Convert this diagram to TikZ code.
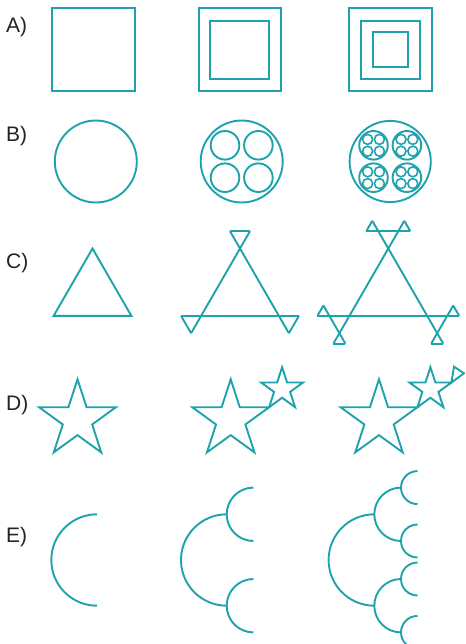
\documentclass[tikz,border=0pt]{standalone}
\usepackage{fontspec}
\setmainfont{Liberation Sans}
\usetikzlibrary{calc}
\definecolor{teal1}{RGB}{30,163,173}
\definecolor{lab}{RGB}{35,35,35}
\tikzset{
  fig/.style={draw=teal1, line width=1.9pt, line join=miter},
  lbl/.style={anchor=base west, inner sep=0pt, text=lab, font=\fontsize{21}{25}\selectfont}
}
\newcommand\starfig[3]{%
  \draw[fig,shift={(#1,#2)}] (-90:#3) -- (-54:0.382*#3) -- (-18:#3) -- (18:0.382*#3) -- (54:#3) -- (90:0.382*#3) -- (126:#3) -- (162:0.382*#3) -- (198:#3) -- (234:0.382*#3) -- cycle;}
\begin{document}
\begin{tikzpicture}[x=1pt,y=-1pt]
\useasboundingbox (0,0) rectangle (465,644);
\clip (0,0) rectangle (465,644);
\fill[white] (0,0) rectangle (465,644);

% labels
\node[lbl] (la) at (6,33) {A)};
\node[lbl] (lb) at (6,142) {B)};
\node[lbl] (lc) at (6,268) {C)};
\node[lbl] (ld) at (6,410) {D)};
\node[lbl] (le) at (6,542) {E)};

% ---- Row A: squares
\draw[fig] (52.3,8.3) rectangle (135,90.7);
\draw[fig] (198.7,8.3) rectangle (281,90.7);
\draw[fig] (210,20.7) rectangle (269.3,79.3);
\draw[fig] (349.3,8.3) rectangle (431.7,90.7);
\draw[fig] (361,20.7) rectangle (420,79.3);
\draw[fig] (372.7,32.3) rectangle (408.3,67.3);

% ---- Row B: circles
\draw[fig] (95.8,161.5) circle[radius=41];
\draw[fig] (241.7,161.5) circle[radius=41];
\foreach \dx in {-16.7,16.7}{\foreach \dy in {-16.2,16.2}{
  \draw[fig] (241.7+\dx,161.5+\dy) circle[radius=14.3];}}
\draw[fig] (390.2,161.5) circle[radius=40.6];
\foreach \dx in {-16.7,16.7}{\foreach \dy in {-16.2,16.2}{
  \draw[fig] (390.2+\dx,161.5+\dy) circle[radius=14.3];
  \foreach \ex in {-5.9,5.9}{\foreach \ey in {-5.9,5.9}{
    \draw[fig,line width=1.6pt] (390.2+\dx+\ex,161.5+\dy+\ey) circle[radius=5.0];}}}}

% ---- Row C: triangles
\draw[fig] (92.5,248.5) -- (131.4,315.9) -- (53.6,315.9) -- cycle;

\coordinate (A2) at (240,248.5);
\coordinate (L2) at (201.1,315.9);
\coordinate (R2) at (278.9,315.9);
\draw[fig] ($(A2)+(-10,-17.32)$) -- ($(R2)+(10,17.32)$);
\draw[fig] ($(A2)+(10,-17.32)$) -- ($(L2)+(-10,17.32)$);
\draw[fig] ($(L2)+(-20,0)$) -- ($(R2)+(20,0)$);
\draw[fig] ($(A2)+(-10,-17.32)$) -- ($(A2)+(10,-17.32)$);
\draw[fig] ($(L2)+(-20,0)$) -- ($(L2)+(-10,17.32)$);
\draw[fig] ($(R2)+(20,0)$) -- ($(R2)+(10,17.32)$);

\coordinate (A3) at (388.3,248.5);
\coordinate (L3) at (349.4,315.9);
\coordinate (R3) at (427.2,315.9);
\draw[fig] ($(A3)+(-16,-27.71)$) -- ($(R3)+(16,27.71)$);
\draw[fig] ($(A3)+(16,-27.71)$) -- ($(L3)+(-16,27.71)$);
\draw[fig] ($(L3)+(-32,0)$) -- ($(R3)+(32,0)$);
\draw[fig] ($(A3)+(-22,-17.32)$) -- ($(A3)+(22,-17.32)$);
\draw[fig] ($(L3)+(-26,-10.39)$) -- ($(L3)+(-4,27.71)$);
\draw[fig] ($(R3)+(26,-10.39)$) -- ($(R3)+(4,27.71)$);
\draw[fig] ($(A3)+(-22,-17.32)$) -- ($(A3)+(-16,-27.71)$);
\draw[fig] ($(A3)+(22,-17.32)$) -- ($(A3)+(16,-27.71)$);
\draw[fig] ($(L3)+(-32,0)$) -- ($(L3)+(-26,-10.39)$);
\draw[fig] ($(L3)+(-16,27.71)$) -- ($(L3)+(-4,27.71)$);
\draw[fig] ($(R3)+(32,0)$) -- ($(R3)+(26,-10.39)$);
\draw[fig] ($(R3)+(16,27.71)$) -- ($(R3)+(4,27.71)$);

% ---- Row D: stars
\starfig{77.5}{419.7}{40.4}
\starfig{230.7}{419.7}{40.4}
\starfig{282.1}{389.3}{22.1}
\starfig{379}{419.7}{40.4}
\starfig{430.4}{389.3}{22.1}
\draw[fig] (451.4,382.5) -- (454,366.7) -- (464,373.3) -- cycle;

% ---- Row E: arcs
\draw[fig] (97,514.3) arc[start angle=270,end angle=90,radius=45.7];
\draw[fig] (226.7,514.3) arc[start angle=270,end angle=90,radius=45.7];
\draw[fig] (253.4,487.6) arc[start angle=270,end angle=90,radius=26.7];
\draw[fig] (253.4,579.0) arc[start angle=270,end angle=90,radius=26.7];
\draw[fig] (374.3,514.3) arc[start angle=270,end angle=90,radius=45.7];
\draw[fig] (401.0,487.6) arc[start angle=270,end angle=90,radius=26.7];
\draw[fig] (401.0,579.0) arc[start angle=270,end angle=90,radius=26.7];
\draw[fig] (417.5,471.1) arc[start angle=270,end angle=90,radius=16.5];
\draw[fig] (417.5,524.5) arc[start angle=270,end angle=90,radius=16.5];
\draw[fig] (417.5,562.5) arc[start angle=270,end angle=90,radius=16.5];
\draw[fig] (417.5,615.9) arc[start angle=270,end angle=90,radius=16.5];
\end{tikzpicture}
\end{document}
